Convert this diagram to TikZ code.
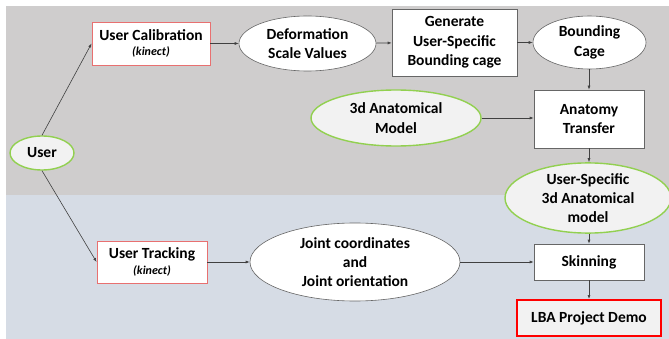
\documentclass[tikz,border=0pt]{standalone}
\usepackage{fontspec}
\setmainfont{Carlito}
\usetikzlibrary{shapes.geometric,arrows.meta}
\definecolor{bggray}{HTML}{CFCDCD}
\definecolor{bgblue}{HTML}{D6DCE5}
\definecolor{lgreen}{HTML}{92D050}
\definecolor{salmon}{HTML}{E87070}
\definecolor{lfill}{HTML}{F2F2F2}
\definecolor{arr}{HTML}{404040}
\tikzset{
  txt/.style={align=center,font=\fontsize{15.5}{19.3}\selectfont\bfseries,inner sep=0pt},
  ell/.style={txt,ellipse,draw=black!60,fill=white,line width=0.6pt},
  gell/.style={txt,ellipse,draw=lgreen,fill=lfill,line width=1.4pt},
  box/.style={txt,rectangle,draw=black!60,fill=white,line width=0.6pt},
  rbox/.style={txt,rectangle,draw=salmon,fill=white,line width=0.9pt},
  conn/.style={draw=arr,line width=0.6pt,-{Latex[length=4pt,width=3pt]}},
}
\newcommand{\kin}{\\[-4pt]{\fontsize{12}{14}\selectfont\bfseries\itshape (kinect)}}
\begin{document}
\begin{tikzpicture}[x=1pt,y=-1pt]
\useasboundingbox (0,0) rectangle (669,339);
\fill[bggray] (6,6) rectangle (669,195);
\fill[bgblue] (6,195) rectangle (669,339);
\begin{scope}
\clip (0,0) rectangle (669,339);
\node[gell,minimum width=64pt,minimum height=34pt] (user) at (42,153) {User};
\node[rbox,minimum width=118pt,minimum height=43pt] (calib) at (151,43.5) {User Calibration\kin};
\node[ell,minimum width=137pt,minimum height=55pt] (deform) at (307.5,43.5) {Deformation\\Scale Values};
\node[box,minimum width=125pt,minimum height=67pt] (gen) at (454.5,42.5) {Generate\\User-Specific\\Bounding cage};
\node[ell,minimum width=113pt,minimum height=53pt] (cage) at (589.5,42.5) {Bounding\\Cage};
\node[gell,minimum width=170pt,minimum height=56pt] (anat) at (396,118) {3d Anatomical\\Model};
\node[box,minimum width=110pt,minimum height=58pt] (transfer) at (589,119) {Anatomy\\Transfer};
\node[gell,minimum width=166pt,minimum height=70pt] (usa) at (588,198) {User-Specific\\3d Anatomical\\model};
\node[rbox,minimum width=110pt,minimum height=42pt] (track) at (152,262) {User Tracking\kin};
\node[ell,minimum width=210pt,minimum height=78pt] (joint) at (355,262) {Joint coordinates\\and\\Joint orientation};
\node[box,minimum width=110pt,minimum height=36pt] (skin) at (589,262) {Skinning};
\node[txt,rectangle,draw=red,fill=lfill,line width=2pt,minimum width=144pt,minimum height=36pt] (lba) at (589,318) {LBA Project Demo};
\end{scope}
\draw[conn] (user.north) -- (calib.west);
\draw[conn] (user.south) -- (track.west);
\draw[conn] (calib) -- (deform);
\draw[conn] (deform) -- (gen);
\draw[conn] (gen) -- (cage);
\draw[conn] (cage.south -| transfer.north) -- (transfer.north);
\draw[conn] (anat.east) -- (anat.east -| transfer.west);
\draw[conn] (transfer.south) -- (transfer.south |- usa.north);
\draw[conn] (track.east) -- (track.east -| joint.west);
\draw[conn] (joint.east) -- (joint.east -| skin.west);
\draw[conn] (usa.south -| skin.north) -- (skin.north);
\draw[conn] (skin.south) -- (lba.north);
\end{tikzpicture}
\end{document}
